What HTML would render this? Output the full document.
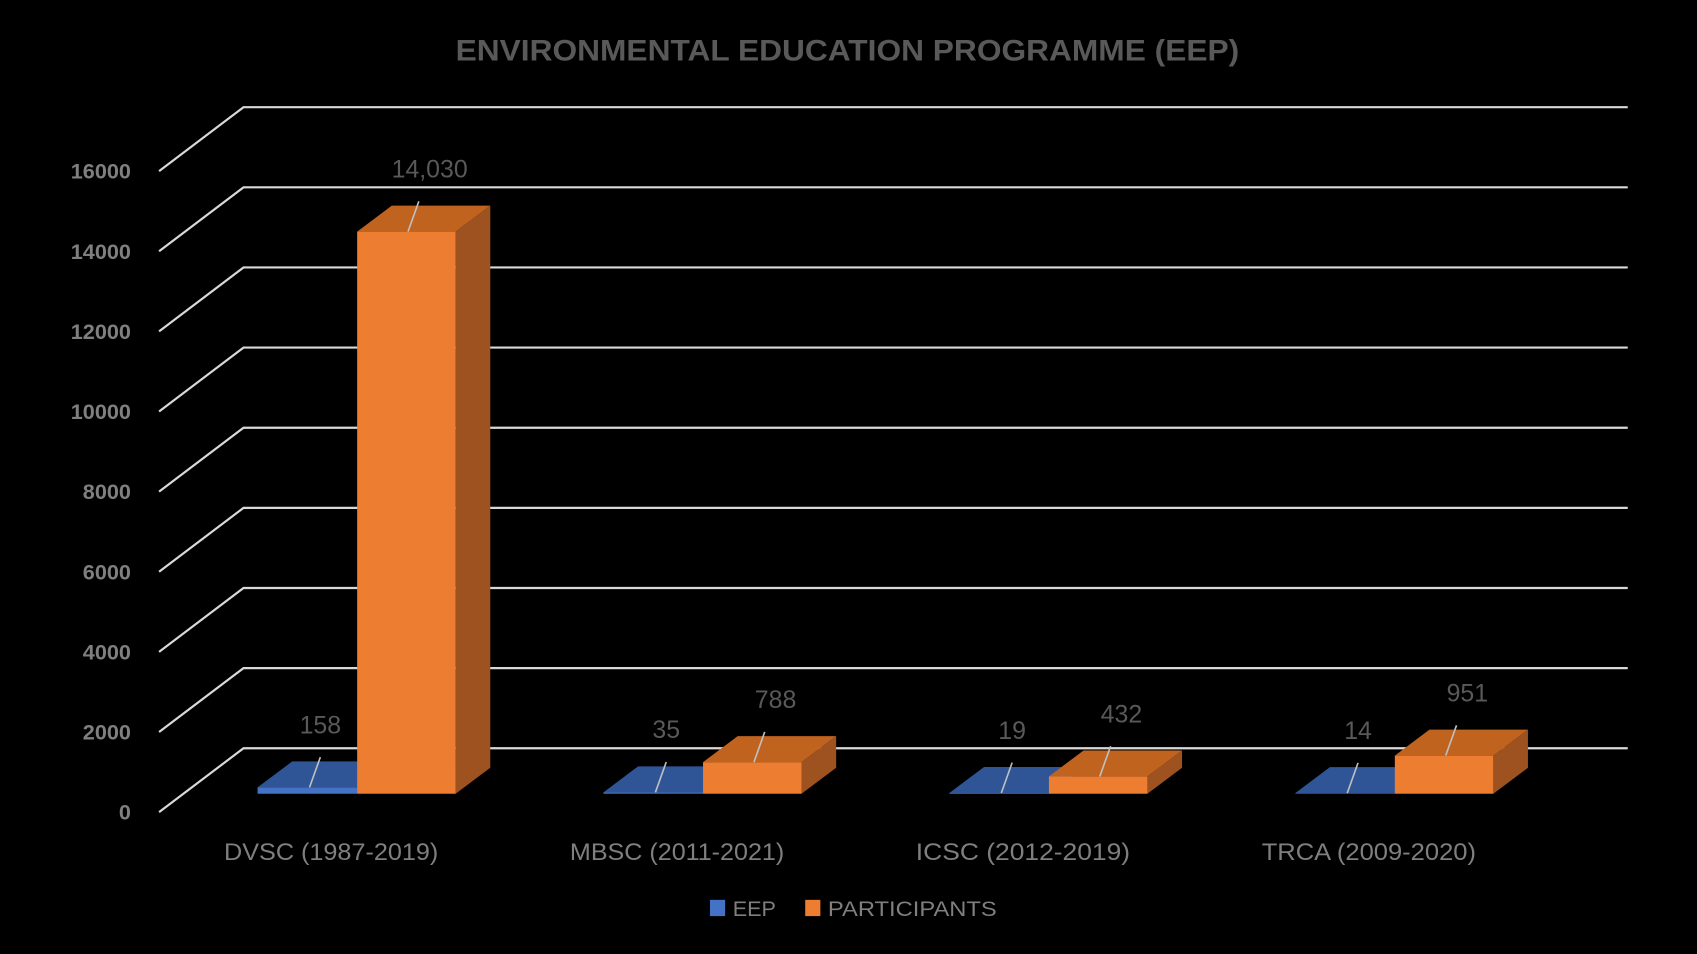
<!DOCTYPE html>
<html><head><meta charset="utf-8"><style>
html,body{margin:0;padding:0;background:#000;}
svg{display:block;font-family:"Liberation Sans",sans-serif;}
</style></head><body>
<svg width="1697" height="954" viewBox="0 0 1568 881" preserveAspectRatio="none" xmlns="http://www.w3.org/2000/svg">
<rect width="1568" height="881" fill="#000"/>
<text x="783" y="56" text-anchor="middle" font-size="27" font-weight="bold" fill="#595959" textLength="724" lengthAdjust="spacingAndGlyphs">ENVIRONMENTAL EDUCATION PROGRAMME (EEP)</text>
<g id="grid"></g>
<g id="bars"></g>
<g id="labels"></g>
<g>
<rect x="656" y="831" width="14" height="15" fill="#4472C4"/>
<text x="677" y="846" font-size="20" fill="#7f7f7f" textLength="40" lengthAdjust="spacingAndGlyphs">EEP</text>
<rect x="744" y="831" width="14" height="15" fill="#ED7D31"/>
<text x="765" y="846" font-size="20" fill="#7f7f7f" textLength="156" lengthAdjust="spacingAndGlyphs">PARTICIPANTS</text>
</g>
</svg>
<script>
const categories = ["DVSC (1987-2019)", "MBSC (2011-2021)", "ICSC (2012-2019)", "TRCA (2009-2020)"];
const eepValues = [158, 35, 19, 14];
const participantValues = [14030, 788, 432, 951];
const eepLabels = ["158", "35", "19", "14"];
const participantLabels = ["14,030", "788", "432", "951"];
const yTicks = [0, 2000, 4000, 6000, 8000, 10000, 12000, 14000, 16000];

const NS = "http://www.w3.org/2000/svg";
const scale = 74 / 2000;
const gridFront0 = 750, DX = 78, DY = 59;
const floorY = 733, depthX = 32, depthY = 24;
function yFront(v){ return gridFront0 - v * scale; }
function yBar(v){ return floorY - v * scale; }
function xCat(i){ return 330 + i * 319.6; }
function mk(tag, attrs, parent){
  const e = document.createElementNS(NS, tag);
  for (const k in attrs) e.setAttribute(k, attrs[k]);
  parent.appendChild(e);
  return e;
}
const grid = document.getElementById("grid");
yTicks.forEach(function(t){
  const yf = yFront(t);
  const g = mk("g", {}, grid);
  
  
  mk("polyline", {points: "147," + yf + " " + (147+DX) + "," + (yf-DY) + " 1504," + (yf-DY), fill:"none", stroke:"#d9d9d9", "stroke-width":2}, g);
  const tx = mk("text", {x:121, y:yf+7, "text-anchor":"end", "font-size":20, "font-weight":"bold", fill:"#7f7f7f"}, grid);
  
  
  tx.textContent = t;
});
const bars = document.getElementById("bars");
const labels = document.getElementById("labels");
function bar3d(x0, w, v, front, top, side, name){
  const g = mk("g", {}, bars);
  
  
  const yt = yBar(v);
  mk("polygon", {points: (x0+w)+","+floorY+" "+(x0+w+depthX)+","+(floorY-depthY)+" "+(x0+w+depthX)+","+(yt-depthY)+" "+(x0+w)+","+yt, fill:side}, g);
  mk("polygon", {points: x0+","+yt+" "+(x0+depthX)+","+(yt-depthY)+" "+(x0+w+depthX)+","+(yt-depthY)+" "+(x0+w)+","+yt, fill:top}, g);
  mk("rect", {x:x0, y:yt, width:w, height:Math.max(floorY-yt,0.5), fill:front}, g);
  return yt;
}
function valueLabel(cx, yt, dx, txt, name){
  const lx = cx + dx, ly = yt - 50;
  const l = mk("line", {x1:cx+2, y1:yt, x2:cx+12, y2:yt-28, stroke:"#bfbfbf", "stroke-width":1.5}, labels);
  
  
  const t = mk("text", {x:lx, y:ly, "text-anchor":"middle", "font-size":23, fill:"#595959"}, labels);
  
  
  t.textContent = txt;
}
categories.forEach(function(c, i){
  const x = xCat(i);
  const yb = bar3d(x-92, 92, eepValues[i], "#4472C4", "#2F5597", "#26467e", "bar-eep-" + i);
  const yo = bar3d(x, 91, participantValues[i], "#ED7D31", "#C0631F", "#9E521F", "bar-participants-" + i);
  valueLabel(x-46, yb, 12, eepLabels[i], "value-label-eep-" + i);
  valueLabel(x+45, yo, 22, participantLabels[i], "value-label-participants-" + i);
  const t = mk("text", {x:x-24, y:794, "text-anchor":"middle", "font-size":22, fill:"#7f7f7f"}, labels);
  
  
  t.setAttribute('textLength', 198);
  t.setAttribute('lengthAdjust', 'spacingAndGlyphs');
  t.textContent = c;
});
</script>
</body></html>
